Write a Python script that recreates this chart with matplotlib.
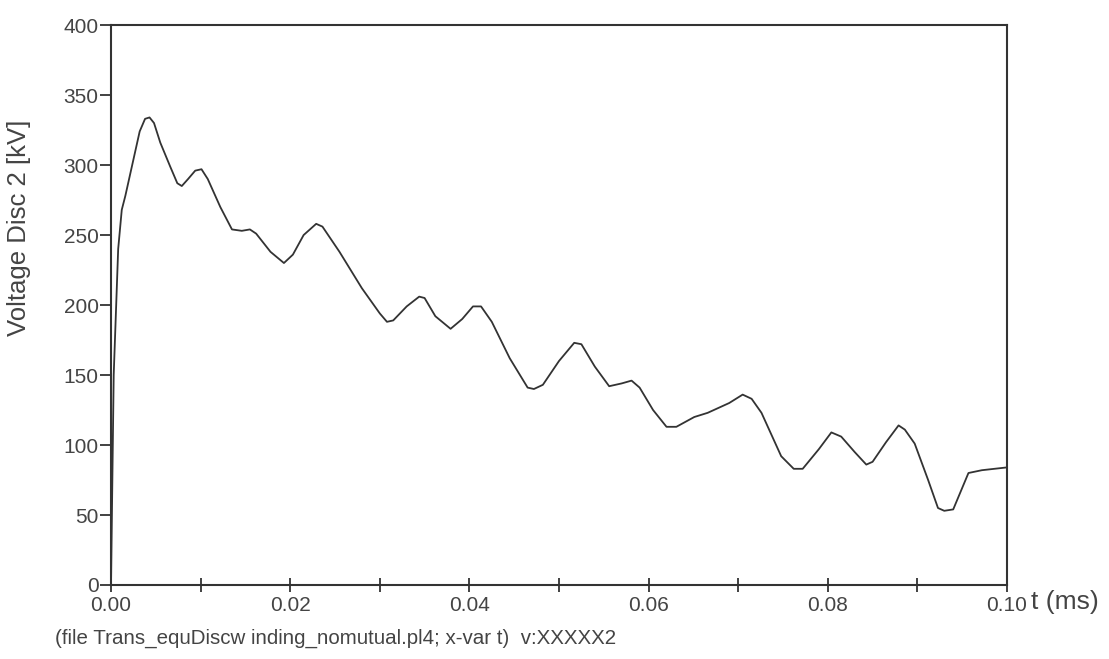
import numpy as np
import matplotlib.pyplot as plt

plt.rcParams['font.family'] = ['Liberation Sans', 'DejaVu Sans']

# time (ms) and voltage (kV)
t_ms = [0.0, 0.0003, 0.0008, 0.0012, 0.0016, 0.0032, 0.0038, 0.0043, 0.0048,
        0.0055, 0.0066, 0.0074, 0.0079, 0.0086, 0.0094, 0.0101, 0.0108, 0.0122,
        0.0135, 0.0146, 0.0155, 0.0162, 0.0178, 0.0193, 0.0203, 0.0215, 0.0229,
        0.0236, 0.0255, 0.0280, 0.0300, 0.0308, 0.0315, 0.0330, 0.0344, 0.0350,
        0.0362, 0.0379, 0.0392, 0.0404, 0.0413, 0.0425, 0.0445, 0.0465, 0.0472,
        0.0482, 0.0500, 0.0517, 0.0525, 0.0540, 0.0556, 0.0570, 0.0581, 0.0590,
        0.0605, 0.0620, 0.0631, 0.0651, 0.0666, 0.0690, 0.0705, 0.0715, 0.0726,
        0.0748, 0.0762, 0.0772, 0.0790, 0.0804, 0.0815, 0.0830, 0.0843, 0.0850,
        0.0865, 0.0879, 0.0886, 0.0897, 0.0912, 0.0923, 0.0930, 0.0940, 0.0957,
        0.0972, 0.1000]
v_kv = [0, 150, 240, 268, 278, 324, 333, 334, 330,
        316, 299, 287, 285, 290, 296, 297, 290, 270,
        254, 253, 254, 251, 238, 230, 236, 250, 258,
        256, 238, 212, 194, 188, 189, 199, 206, 205,
        192, 183, 190, 199, 199, 188, 162, 141, 140,
        143, 160, 173, 172, 156, 142, 144, 146, 141,
        125, 113, 113, 120, 123, 130, 136, 133, 123,
        92, 83, 83, 97, 109, 106, 95, 86, 88,
        102, 114, 111, 101, 75, 55, 53, 54, 80,
        82, 84]

x_labels = ['0.00', '0.02', '0.04', '0.06', '0.08', '0.10']
y_ticks = [0, 50, 100, 150, 200, 250, 300, 350, 400]

ink = '#333333'
txt = '#444444'

fig = plt.figure(figsize=(11.09, 6.59), dpi=100)
ax = fig.add_axes([0.1001, 0.1123, 0.8079, 0.8497])
ax.plot(t_ms, v_kv, color=ink, lw=1.3)

ax.set_xlim(0, 0.1)
ax.set_ylim(0, 400)
for s in ax.spines.values():
    s.set_color(ink)
    s.set_linewidth(1.5)

ax.set_xticks(np.arange(0, 0.1001, 0.02))
ax.set_xticklabels(x_labels)
ax.set_xticks(np.arange(0.01, 0.1, 0.02), minor=True)
ax.tick_params(axis='x', which='both', direction='inout', length=10, width=1.3,
               color=ink, labelsize=15, labelcolor=txt, pad=3)
ax.set_yticks(y_ticks)
ax.tick_params(axis='y', direction='out', length=8, width=1.3, color=ink,
               labelsize=15, labelcolor=txt, pad=1)

fig.text(0.017, 0.655, 'Voltage Disc 2 [kV]', rotation=90, ha='center', va='center',
         fontsize=18.5, color=txt)
fig.text(0.930, 0.086, 't (ms)', ha='left', va='center', fontsize=19, color=txt)
fig.text(0.05, 0.032, '(file Trans_equDiscw inding_nomutual.pl4; x-var t)  v:XXXXX2',
         ha='left', va='center', fontsize=14.8, color=txt)

fig.savefig('out.png', dpi=100)
